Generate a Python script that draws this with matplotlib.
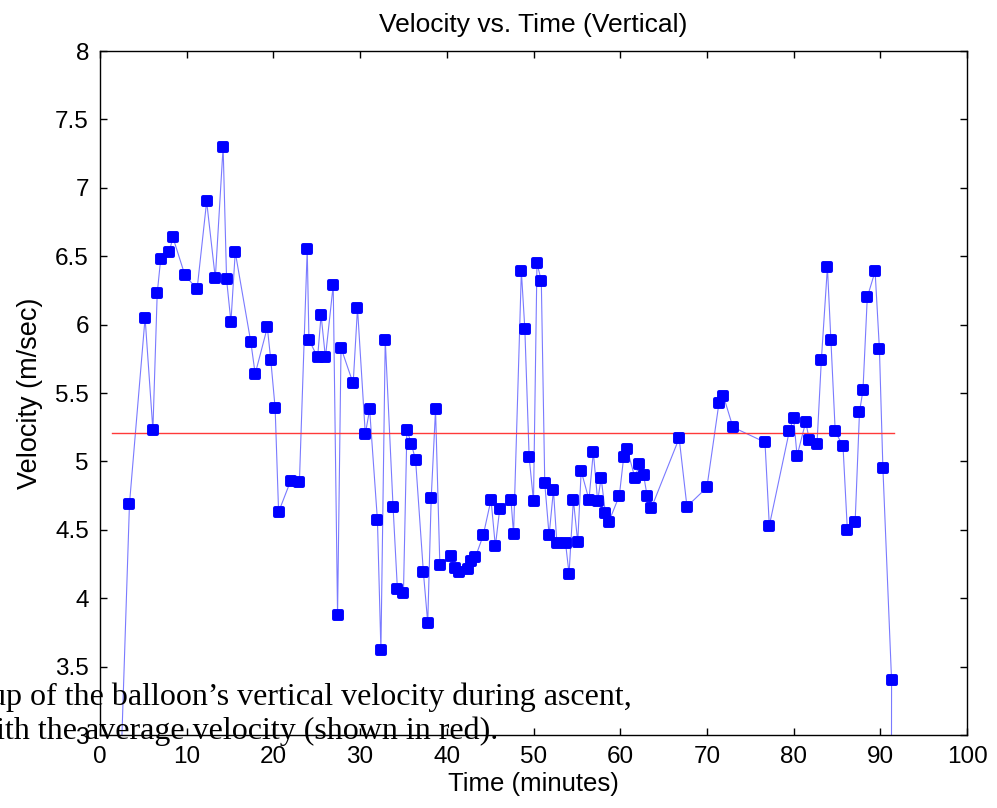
import numpy as np
import matplotlib
matplotlib.use('Agg')
import matplotlib.pyplot as plt
from matplotlib.markers import MarkerStyle

# time (minutes) and vertical velocity (m/sec)
timeMin = [1.4, 3.4, 5.2, 6.1, 6.6, 7.0, 8.0, 8.4, 9.8, 11.2,
           12.3, 13.3, 14.2, 14.6, 15.1, 15.6, 17.4, 17.9, 19.3, 19.7,
           20.2, 20.6, 22.0, 23.0, 23.9, 24.1, 25.1, 25.5, 26.0, 26.9,
           27.4, 27.8, 29.2, 29.7, 30.6, 31.1, 32.0, 32.4, 32.9, 33.8,
           34.3, 35.0, 35.4, 35.9, 36.4, 37.3, 37.8, 38.2, 38.7, 39.2,
           40.5, 40.9, 41.4, 42.4, 42.8, 43.3, 44.2, 45.1, 45.6, 46.1,
           47.4, 47.7, 48.6, 49.0, 49.5, 50.0, 50.4, 50.9, 51.3, 51.8,
           52.3, 52.7, 53.7, 54.1, 54.6, 55.1, 55.5, 56.4, 56.9, 57.4,
           57.8, 58.3, 58.7, 59.9, 60.4, 60.8, 61.7, 62.2, 62.7, 63.1,
           63.6, 66.8, 67.7, 70.0, 71.4, 71.9, 73.0, 76.7, 77.2, 79.5,
           80.0, 80.4, 81.4, 81.8, 82.7, 83.2, 83.9, 84.3, 84.8, 85.7,
           86.2, 87.1, 87.6, 88.0, 88.5, 89.4, 89.9, 90.3, 91.3, 91.25]

velocity = [0.8, 4.69, 6.05, 5.23, 6.23, 6.48, 6.53, 6.64, 6.36, 6.26,
            6.90, 6.34, 7.30, 6.33, 6.02, 6.53, 5.87, 5.64, 5.98, 5.74,
            5.39, 4.63, 4.86, 4.85, 6.55, 5.89, 5.76, 6.07, 5.76, 6.29,
            3.88, 5.83, 5.57, 6.12, 5.20, 5.38, 4.57, 3.62, 5.89, 4.67,
            4.07, 4.04, 5.23, 5.13, 5.01, 4.19, 3.82, 4.73, 5.38, 4.24,
            4.31, 4.22, 4.19, 4.21, 4.27, 4.30, 4.46, 4.72, 4.38, 4.65,
            4.72, 4.47, 6.39, 5.97, 5.03, 4.71, 6.45, 6.32, 4.84, 4.46,
            4.79, 4.40, 4.40, 4.18, 4.72, 4.41, 4.93, 4.72, 5.07, 4.71,
            4.88, 4.62, 4.56, 4.75, 5.03, 5.09, 4.88, 4.98, 4.90, 4.75,
            4.66, 5.17, 4.67, 4.81, 5.43, 5.48, 5.25, 5.14, 4.53, 5.22,
            5.32, 5.04, 5.29, 5.16, 5.13, 5.74, 6.42, 5.89, 5.22, 5.11,
            4.50, 4.56, 5.36, 5.52, 6.20, 6.39, 5.82, 4.95, 3.40, 1.0]

avgVelocity = 5.21
avgSpan = [1.4, 91.6]

xTicks = [0, 10, 20, 30, 40, 50, 60, 70, 80, 90, 100]
yTicks = [3, 3.5, 4, 4.5, 5, 5.5, 6, 6.5, 7, 7.5, 8]
yTickLabels = ['3', '3.5', '4', '4.5', '5', '5.5', '6', '6.5', '7', '7.5', '8']

caption1 = 'up of the balloon\u2019s vertical velocity during ascent,'
caption2 = 'with the average velocity (shown in red).'

plt.rcParams['font.family'] = ['Liberation Sans', 'DejaVu Sans']

fig = plt.figure(figsize=(9.97, 8.08), dpi=100)
ax = fig.add_axes([100/997., 1 - 735/808., 867/997., 684/808.])

# data line with rounded square markers
mk = MarkerStyle('s', joinstyle='round')
ax.plot(timeMin, velocity, color='#7a7aff', linewidth=0.8, zorder=2)
ax.plot(timeMin, velocity, linestyle='none', marker=mk, markersize=5.6,
        markerfacecolor='#0000ff', markeredgecolor='#0000ff',
        markeredgewidth=2.8, zorder=3)

# average line
ax.plot(avgSpan, [avgVelocity, avgVelocity], color='#ff3a3a', linewidth=1.0, zorder=2)

ax.set_xlim(0, 100)
ax.set_ylim(3, 8)
ax.set_xticks(xTicks)
ax.set_yticks(yTicks)
ax.set_yticklabels(yTickLabels)
ax.tick_params(direction='in', length=5, width=1, labelsize=17.5,
               top=True, right=True, pad=8)
for s in ax.spines.values():
    s.set_linewidth(1.0)

ax.set_title('Velocity vs. Time (Vertical)', fontsize=19, pad=14)
ax.set_xlabel('Time (minutes)', fontsize=18.5, labelpad=3)
ax.set_ylabel('Velocity (m/sec)', fontsize=19.5, labelpad=9)

# caption text that overlaps the plot (cut at left edge)
fig.text(632/997., 1 - 705/808., caption1, ha='right', va='baseline',
         fontsize=23, family=['Liberation Serif', 'DejaVu Serif'], color='black', zorder=10)
fig.text(498/997., 1 - 739/808., caption2, ha='right', va='baseline',
         fontsize=23, family=['Liberation Serif', 'DejaVu Serif'], color='black', zorder=10)

plt.savefig('out.png', dpi=100)
